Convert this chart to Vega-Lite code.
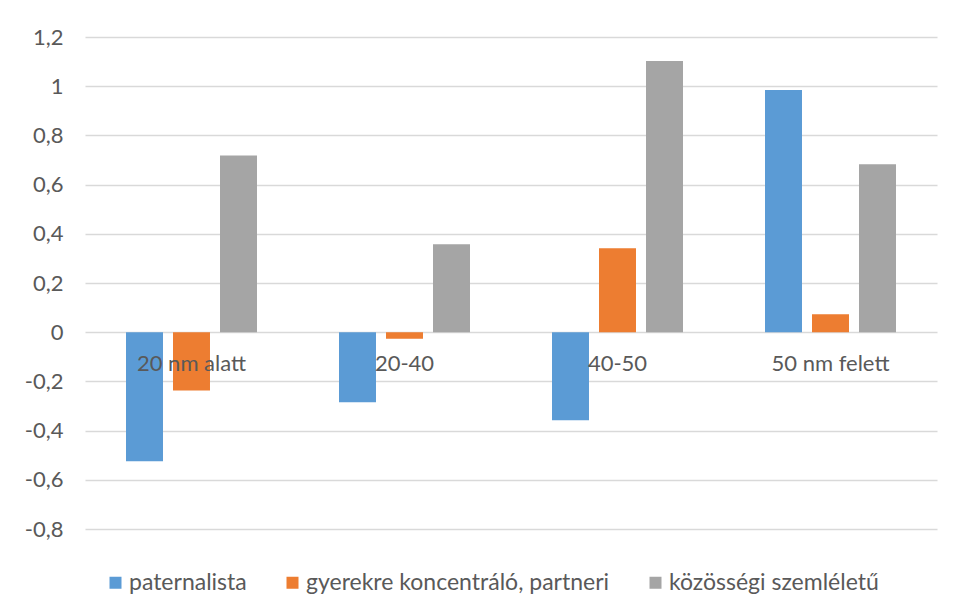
{
  "$schema": "https://vega.github.io/schema/vega-lite/v6.json",
  "width": 852,
  "height": 492,
  "autosize": {"type": "none"},
  "padding": {"left": 85, "top": 37, "right": 21, "bottom": 87},
  "background": "white",
  "config": {"view": {"stroke": null}, "font": "Lato"},
  "data": {
    "values": [
      {"kat": "20 nm alatt", "sorozat": "paternalista", "ertek": -0.525},
      {"kat": "20 nm alatt", "sorozat": "gyerekre koncentráló, partneri", "ertek": -0.237},
      {"kat": "20 nm alatt", "sorozat": "közösségi szemléletű", "ertek": 0.718},
      {"kat": "20-40", "sorozat": "paternalista", "ertek": -0.285},
      {"kat": "20-40", "sorozat": "gyerekre koncentráló, partneri", "ertek": -0.027},
      {"kat": "20-40", "sorozat": "közösségi szemléletű", "ertek": 0.358},
      {"kat": "40-50", "sorozat": "paternalista", "ertek": -0.358},
      {"kat": "40-50", "sorozat": "gyerekre koncentráló, partneri", "ertek": 0.341},
      {"kat": "40-50", "sorozat": "közösségi szemléletű", "ertek": 1.102},
      {"kat": "50 nm felett", "sorozat": "paternalista", "ertek": 0.985},
      {"kat": "50 nm felett", "sorozat": "gyerekre koncentráló, partneri", "ertek": 0.073},
      {"kat": "50 nm felett", "sorozat": "közösségi szemléletű", "ertek": 0.683}
    ]
  },
  "mark": {"type": "bar"},
  "encoding": {
    "x": {
      "field": "kat",
      "type": "nominal",
      "sort": ["20 nm alatt", "20-40", "40-50", "50 nm felett"],
      "scale": {"paddingInner": 0.338, "paddingOuter": 0.169},
      "axis": {
        "title": null,
        "offset": -197,
        "domain": false,
        "ticks": false,
        "labelAngle": 0,
        "labelFontSize": 22,
        "labelColor": "#595959",
        "labelPadding": 21,
        "zindex": 1
      }
    },
    "xOffset": {
      "field": "sorozat",
      "sort": ["paternalista", "gyerekre koncentráló, partneri", "közösségi szemléletű"],
      "scale": {"paddingInner": 0.213, "paddingOuter": 0.1065}
    },
    "y": {
      "field": "ertek",
      "type": "quantitative",
      "scale": {"domain": [-0.8, 1.2], "nice": false},
      "axis": {
        "title": null,
        "values": [-0.8, -0.6, -0.4, -0.2, 0, 0.2, 0.4, 0.6, 0.8, 1, 1.2],
        "domain": false,
        "ticks": false,
        "gridColor": "#D9D9D9",
        "gridWidth": 1.5,
        "labelExpr": "replace(replace(format(datum.value, '~g'), '.', ','), '\u2212', '-')",
        "labelFontSize": 22,
        "labelColor": "#595959",
        "labelPadding": 22
      }
    },
    "color": {
      "field": "sorozat",
      "type": "nominal",
      "scale": {
        "domain": ["paternalista", "gyerekre koncentráló, partneri", "közösségi szemléletű"],
        "range": ["#5B9BD5", "#ED7D31", "#A5A5A5"]
      },
      "legend": {
        "orient": "none",
        "legendX": 19,
        "legendY": 534,
        "direction": "horizontal",
        "title": null,
        "symbolType": "square",
        "symbolSize": 144,
        "symbolStrokeWidth": 0,
        "labelFontSize": 23,
        "labelColor": "#595959",
        "labelOffset": 2,
        "columnPadding": 34,
        "labelLimit": 0
      }
    }
  }
}
